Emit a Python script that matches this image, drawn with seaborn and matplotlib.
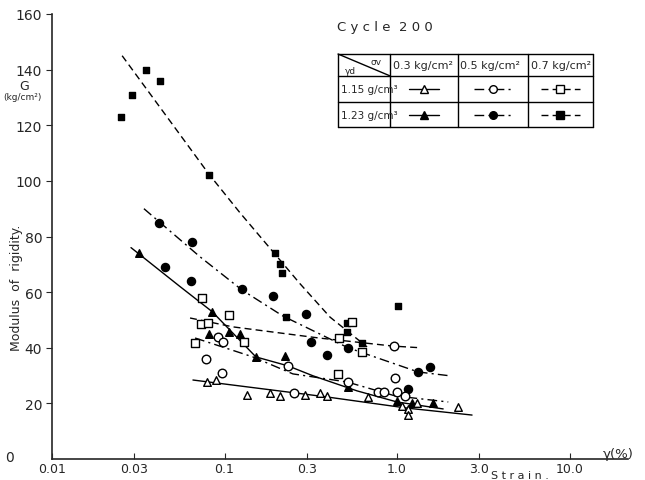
import numpy as np
import pandas as pd
import seaborn as sns
import matplotlib
matplotlib.use("Agg")
import matplotlib.pyplot as plt

# --- measured points (strain %, G kg/cm2) ---
sq_f_x = [0.025, 0.029, 0.035, 0.042, 0.081, 0.196, 0.21, 0.215, 0.227, 0.513, 0.513, 0.627, 1.01]
sq_f_y = [123, 131, 140, 136, 102, 74, 70, 67, 51, 49, 45.7, 41.7, 55]

ci_f_x = [0.0417, 0.0648, 0.0452, 0.064, 0.126, 0.191, 0.297, 0.317, 0.393, 0.52, 1.158, 1.324, 1.553]
ci_f_y = [85, 78, 69, 64, 61, 58.6, 52, 42, 37.4, 40, 25, 31.3, 33]

tr_f_x = [0.0319, 0.0847, 0.0813, 0.106, 0.123, 0.152, 0.224, 0.52, 1.0, 1.22, 1.62]
tr_f_y = [74, 53, 45, 45.7, 45, 36.7, 37, 26, 20.9, 20, 20]

tr_o_x = [0.0792, 0.0893, 0.135, 0.184, 0.21, 0.293, 0.358, 0.393, 0.679, 1.069, 1.158, 1.158, 1.306, 2.26]
tr_o_y = [27.7, 28.4, 23, 23.7, 22.7, 23, 23.7, 22.7, 22.3, 19, 18, 15.8, 20, 18.7]

ci_o_x = [0.0917, 0.098, 0.0781, 0.0968, 0.233, 0.253, 0.52, 0.776, 0.841, 0.973, 1.0, 1.112, 0.961]
ci_o_y = [43.9, 42, 36, 31, 33.5, 23.7, 27.7, 24, 24, 29, 24, 22.7, 40.6]

sq_o_x = [0.0741, 0.106, 0.0731, 0.0802, 0.0675, 0.13, 0.461, 0.548, 0.627, 0.455]
sq_o_y = [58, 51.8, 48.6, 49, 41.7, 42, 43.5, 49.3, 38.5, 30.6]

# --- hand drawn fitting curves ---
sq_f_cx = [0.0255, 0.0464, 0.081, 0.123, 0.194, 0.274, 0.409, 0.67]
sq_f_cy = [145, 123, 102.5, 88.5, 74, 63, 51, 40.3]
sq_o_cx = [0.0631, 0.112, 0.353, 0.948, 1.36]
sq_o_cy = [50.7, 47.5, 43.5, 40.6, 40]
ci_f_cx = [0.0341, 0.0721, 0.126, 0.218, 0.52, 1.324, 2.03]
ci_f_cy = [90, 72.7, 60.8, 51.4, 40, 31.3, 29.9]
tr_f_cx = [0.0287, 0.0552, 0.0847, 0.152, 0.233, 0.326, 0.586, 1.0, 1.85]
tr_f_cy = [76, 62, 53, 36.7, 33.5, 29.9, 24.5, 20.5, 18]
ci_o_cx = [0.0675, 0.146, 0.249, 0.513, 0.973, 1.98]
ci_o_cy = [43.5, 36.7, 30.6, 27.7, 22.7, 20.5]
tr_o_cx = [0.0656, 0.393, 1.143, 2.72]
tr_o_cy = [28.4, 22.3, 18.3, 15.8]

x_ticks = [0.01, 0.03, 0.1, 0.3, 1.0, 3.0, 10.0]
x_labels = ["0.01", "0.03", "0.1", "0.3", "1.0", "3.0", "10.0"]
y_ticks = [20, 40, 60, 80, 100, 120, 140, 160]

sns.set_style("ticks")
plt.rcParams["font.family"] = ["DejaVu Sans"]

W, H = 645, 481
fig = plt.figure(figsize=(W / 100, H / 100), dpi=100)
ax = fig.add_axes([52 / W, (H - 460) / H, 576 / W, 445 / H])

dash = (0, (5, 3))
dashdot = (0, (7, 3, 1.5, 3))
# (x, y, marker, filled, size)
series = [
    (sq_f_x, sq_f_y, "s", True, 24),
    (ci_f_x, ci_f_y, "o", True, 34),
    (tr_f_x, tr_f_y, "^", True, 30),
    (tr_o_x, tr_o_y, "^", False, 30),
    (ci_o_x, ci_o_y, "o", False, 38),
    (sq_o_x, sq_o_y, "s", False, 26),
]
curves = [
    (sq_f_cx, sq_f_cy, dash),
    (sq_o_cx, sq_o_cy, dash),
    (ci_f_cx, ci_f_cy, dashdot),
    (tr_f_cx, tr_f_cy, "-"),
    (ci_o_cx, ci_o_cy, dashdot),
    (tr_o_cx, tr_o_cy, "-"),
]

for cx, cy, ls in curves:
    df = pd.DataFrame({"x": cx, "y": cy})
    sns.lineplot(data=df, x="x", y="y", ax=ax, color="black", lw=1.0,
                 linestyle=ls, estimator=None, sort=False)

for px, py, m, filled, s in series:
    df = pd.DataFrame({"x": px, "y": py})
    sns.scatterplot(data=df, x="x", y="y", ax=ax, marker=m, s=s,
                    facecolor="black" if filled else "white",
                    edgecolor="black", linewidth=1.0, zorder=3)

ax.set_xscale("log")
ax.set_xlim(0.01, 21.8)
ax.set_ylim(0, 160)
ax.set_xticks(x_ticks)
ax.set_xticklabels(x_labels)
ax.minorticks_off()
ax.set_yticks(y_ticks)
ax.tick_params(axis="x", direction="in", length=4, labelsize=9, pad=2)
ax.tick_params(axis="y", direction="out", length=4, labelsize=10, pad=3)
ax.set_xlabel("")
ax.set_ylabel("")
sns.despine(ax=ax)
for sp in ax.spines.values():
    sp.set_linewidth(1.2)

# axis annotations
fig.text(9 / W, 1 - 458 / H, "0", fontsize=10, ha="center", va="center")
fig.text(17 / W, 1 - 288 / H, "Modulus  of  rigidity.", rotation=90,
         fontsize=9, ha="center", va="center")
fig.text(24 / W, 1 - 86 / H, "G", fontsize=9, ha="center", va="center")
fig.text(22 / W, 1 - 98 / H, "(kg/cm²)", fontsize=6.5, ha="center", va="center")
fig.text(520 / W, 1 - 476 / H, "S t r a i n .", fontsize=8, ha="center", va="center")
fig.text(618 / W, 1 - 455 / H, "γ(%)", fontsize=9.5, ha="center", va="center")
fig.text(337 / W, 1 - 27 / H, "C y c l e  2 0 0", fontsize=9.5, ha="left", va="center")

# legend table
axt = fig.add_axes([338 / W, (H - 128) / H, 255 / W, 73 / H])
axt.set_xlim(0, 1)
axt.set_ylim(0, 1)
axt.axis("off")
kw = dict(color="black", lw=1.0, clip_on=False)
for yy in [0, 0.342, 0.70, 1]:
    axt.plot([0, 1], [yy, yy], **kw)
for xx in [0, 0.204, 0.471, 0.745, 1]:
    axt.plot([xx, xx], [0, 1], **kw)
axt.plot([0, 0.204], [1, 0.70], **kw)
axt.text(0.15, 0.9, "σv", fontsize=6.5, ha="center", va="center")
axt.text(0.05, 0.77, "γd", fontsize=6.5, ha="center", va="center")
for xx, lab in zip([0.215, 0.48, 0.755], ["0.3 kg/cm²", "0.5 kg/cm²", "0.7 kg/cm²"]):
    axt.text(xx, 0.85, lab, fontsize=8, ha="left", va="center")
axt.text(0.01, 0.52, "1.15 g/cm³", fontsize=7.5, ha="left", va="center")
axt.text(0.01, 0.17, "1.23 g/cm³", fontsize=7.5, ha="left", va="center")

cell_x = [0.3375, 0.608, 0.8725]
samples = [
    (0, 0.52, "-", "^", False), (1, 0.52, dashdot, "o", False), (2, 0.52, dash, "s", False),
    (0, 0.17, "-", "^", True), (1, 0.17, dashdot, "o", True), (2, 0.17, dash, "s", True),
]
for ci, cy, ls, m, filled in samples:
    cx = cell_x[ci]
    hw = 0.06 if ci == 0 else 0.075
    axt.plot([cx - hw, cx, cx + hw], [cy, cy, cy], color="black", lw=1.0,
             linestyle=ls, marker=m, markevery=[1], markersize=5.5,
             markerfacecolor="black" if filled else "white", markeredgecolor="black")

fig.savefig("out.png", dpi=100)
